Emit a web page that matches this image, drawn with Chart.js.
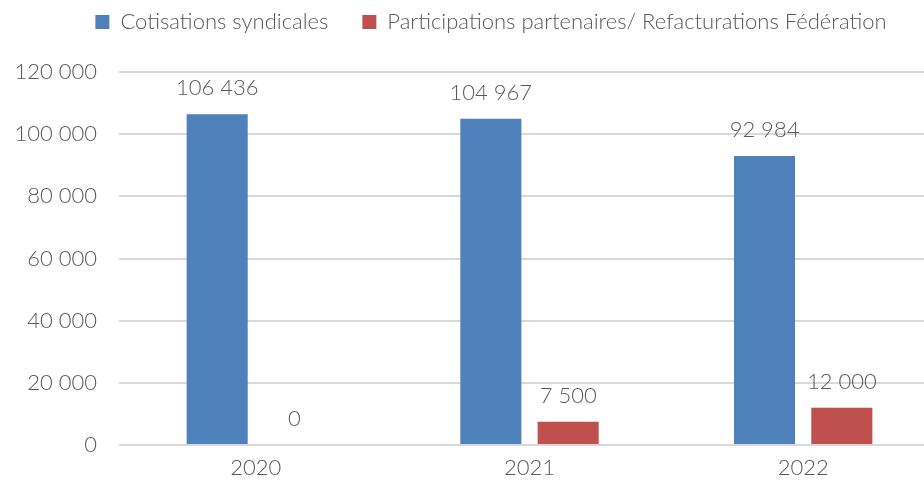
<!DOCTYPE html>
<html>
<head>
<meta charset="utf-8">
<script src="https://cdn.jsdelivr.net/npm/chart.js@4"></script>
<style>
  body { margin: 0; overflow: hidden; background: #fff; }
</style>
</head>
<body>
<canvas id="myChart" width="940" height="483"></canvas>
<script>
// data
const years = ['2020', '2021', '2022'];
const cotisations = [106436, 104967, 92984];
const participations = [0, 7500, 12000];
const yTicks = [0, 20000, 40000, 60000, 80000, 100000, 120000];

const fontFamily = 'Lato, "Open Sans", sans-serif';
const grey = '#595959';

function fmt(v) {
  // thousands separated by a plain space
  return String(v).replace(/\B(?=(\d{3})+(?!\d))/g, ' ');
}

// value labels above bars
const barLabels = {
  id: 'barLabels',
  afterDatasetsDraw(chart) {
    const ctx = chart.ctx;
    ctx.save();
    ctx.font = '300 22px ' + fontFamily;
    ctx.fillStyle = grey;
    ctx.textAlign = 'center';
    ctx.textBaseline = 'middle';
    chart.data.datasets.forEach((ds, i) => {
      chart.getDatasetMeta(i).data.forEach((bar, j) => {
        ctx.fillText(fmt(ds.data[j]), bar.x, bar.y - 26);
      });
    });
    ctx.restore();
  }
};

// legend: fixed height, moved up and right a bit like the original
const legendTweak = {
  id: 'legendTweak',
  beforeInit(chart) {
    const fit = chart.legend.fit;
    chart.legend.fit = function () {
      fit.call(this);
      this.height = 72;
    };
  },
  afterLayout(chart) {
    const lg = chart.legend;
    lg.left += 21;
    lg.right += 21;
    lg.top -= 23;
    lg.bottom -= 23;
  }
};

const data = {
  labels: years,
  datasets: [{
    label: 'Cotisations syndicales',
    data: cotisations,
    backgroundColor: '#4F81BD'
  }, {
    label: 'Participations partenaires/ Refacturations Fédération',
    data: participations,
    backgroundColor: '#C0504D'
  }]
};

const config = {
  type: 'bar',
  data,
  options: {
    responsive: false,
    animation: false,
    layout: { padding: 0 },
    datasets: {
      bar: { categoryPercentage: 0.565, barPercentage: 0.79 }
    },
    plugins: {
      legend: {
        labels: {
          boxWidth: 14,
          boxHeight: 14,
          padding: 34,
          color: grey,
          font: { family: fontFamily, size: 22, weight: '300' }
        }
      },
      tooltip: { enabled: false }
    },
    scales: {
      x: {
        grid: { display: false },
        border: { display: false },
        afterFit(scale) { scale.height = 38; },
        ticks: { color: grey, padding: 2, font: { family: fontFamily, size: 22, weight: '300' } }
      },
      y: {
        min: 0,
        max: 120000,
        afterBuildTicks(scale) {
          scale.ticks = yTicks.map(v => ({ value: v }));
        },
        afterFit(scale) { scale.width = 119; },
        grid: { color: '#d9d9d9', lineWidth: 2, drawTicks: false },
        border: { display: false },
        ticks: {
          color: grey,
          padding: 22,
          font: { family: fontFamily, size: 22, weight: '300' },
          callback: v => fmt(v)
        }
      }
    }
  },
  plugins: [barLabels, legendTweak]
};

const myChart = new Chart(document.getElementById('myChart'), config);
</script>
</body>
</html>
